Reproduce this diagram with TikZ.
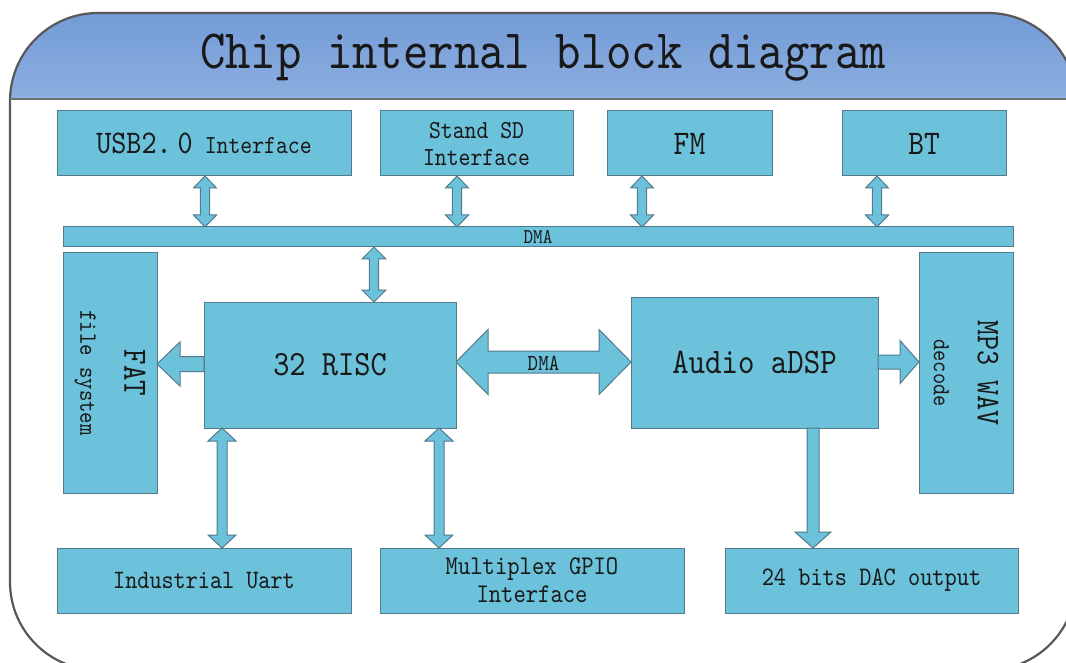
\documentclass[tikz,border=0pt]{standalone}
\usepackage{fontspec}
\newfontfamily\mono[FakeStretch=0.87]{lmmono10-regular.otf}
\usetikzlibrary{calc}
\definecolor{boxfill}{RGB}{107,194,218}
\definecolor{boxline}{RGB}{82,122,140}
\definecolor{hdtop}{RGB}{110,152,213}
\definecolor{hdbot}{RGB}{141,175,224}
\definecolor{frameline}{RGB}{88,88,88}
\definecolor{txt}{RGB}{25,25,25}
\tikzset{
  blk/.style={draw=boxline, fill=boxfill, line width=1pt, inner sep=0pt, outer sep=0pt,
    align=center, font=\mono, text=txt},
  arrowshape/.style={draw=boxline, fill=boxfill, line width=1pt, line join=miter},
}
% vertical double arrow: #1 upper anchor, #2 lower anchor, #3 x, #4 half shaft, #5 half head, #6 head length
\newcommand\VDA[6]{\draw[arrowshape] let \p1=(#1), \p2=(#2), \p3=(#3,0) in
  (\x3,\y1) -- (\x3+#5pt,\y1-#6pt) -- (\x3+#4pt,\y1-#6pt) -- (\x3+#4pt,\y2+#6pt) -- (\x3+#5pt,\y2+#6pt)
  -- (\x3,\y2) -- (\x3-#5pt,\y2+#6pt) -- (\x3-#4pt,\y2+#6pt) -- (\x3-#4pt,\y1-#6pt) -- (\x3-#5pt,\y1-#6pt) -- cycle;}
% vertical single arrow pointing down
\newcommand\VDown[6]{\draw[arrowshape] let \p1=(#1), \p2=(#2), \p3=(#3,0) in
  (\x3-#4pt,\y1) -- (\x3+#4pt,\y1) -- (\x3+#4pt,\y2+#6pt) -- (\x3+#5pt,\y2+#6pt) -- (\x3,\y2)
  -- (\x3-#5pt,\y2+#6pt) -- (\x3-#4pt,\y2+#6pt) -- cycle;}
% horizontal double arrow: #1 left anchor, #2 right anchor, #3 y
\newcommand\HDA[6]{\draw[arrowshape] let \p1=(#1), \p2=(#2), \p3=(0,#3) in
  (\x1,\y3) -- (\x1+#6pt,\y3+#5pt) -- (\x1+#6pt,\y3+#4pt) -- (\x2-#6pt,\y3+#4pt) -- (\x2-#6pt,\y3+#5pt)
  -- (\x2,\y3) -- (\x2-#6pt,\y3-#5pt) -- (\x2-#6pt,\y3-#4pt) -- (\x1+#6pt,\y3-#4pt) -- (\x1+#6pt,\y3-#5pt) -- cycle;}
% single arrow pointing right: #1 tail anchor, #2 tip anchor
\newcommand\HRight[6]{\draw[arrowshape] let \p1=(#1), \p2=(#2), \p3=(0,#3) in
  (\x1,\y3+#4pt) -- (\x2-#6pt,\y3+#4pt) -- (\x2-#6pt,\y3+#5pt) -- (\x2,\y3)
  -- (\x2-#6pt,\y3-#5pt) -- (\x2-#6pt,\y3-#4pt) -- (\x1,\y3-#4pt) -- cycle;}
% single arrow pointing left: #1 tail anchor, #2 tip anchor
\newcommand\HLeft[6]{\draw[arrowshape] let \p1=(#1), \p2=(#2), \p3=(0,#3) in
  (\x1,\y3+#4pt) -- (\x2+#6pt,\y3+#4pt) -- (\x2+#6pt,\y3+#5pt) -- (\x2,\y3)
  -- (\x2+#6pt,\y3-#5pt) -- (\x2+#6pt,\y3-#4pt) -- (\x1,\y3-#4pt) -- cycle;}
\begin{document}
\begin{tikzpicture}[x=1pt,y=-1pt]
\useasboundingbox (0,0) rectangle (1066,663);
\fill[white] (0,0) rectangle (1066,663);
% frame and header
\begin{scope}
  \clip[rounded corners=88pt] (10,13) rectangle (1076,670);
  \fill[top color=hdtop, bottom color=hdbot] (0,0) rectangle (1080,99);
\end{scope}
\draw[frameline, line width=2.2pt, rounded corners=88pt] (10,13) rectangle (1076,670);
\draw[frameline!85, line width=2pt] (10,99) -- (1076,99);
\node[font=\mono\fontsize{55.6}{56}\selectfont, text=txt] (title) at (543,58) {Chip internal block diagram};

% top row
\node[blk, anchor=north west, minimum width=294pt, minimum height=65pt] (usb) at (57,111)
  {{\fontsize{33}{30}\selectfont USB2.\hspace{6pt}0}\hspace{12pt}{\fontsize{26}{24}\selectfont Interface}};
\node[blk, anchor=north west, minimum width=193pt, minimum height=65pt, font=\mono\fontsize{26}{27}\selectfont] (sd) at (380,111)
  {Stand SD\\Interface};
\node[blk, anchor=north west, minimum width=165pt, minimum height=65pt, font=\mono\fontsize{34.5}{34}\selectfont] (fm) at (607,111) {FM};
\node[blk, anchor=north west, minimum width=164pt, minimum height=65pt, font=\mono\fontsize{34.5}{34}\selectfont] (bt) at (842,111) {BT};

% DMA bar
\node[blk, anchor=north west, minimum width=950pt, minimum height=20pt, font=\mono\fontsize{21}{20}\selectfont] (dma) at (63,227) {DMA};

% middle row
\node[blk, rotate=-90, minimum width=240pt, minimum height=94pt, font=\mono\fontsize{25}{44}\selectfont] (fat) at (110,373)
  {{\fontsize{34}{44}\selectfont FAT}\\file system};
\node[blk, anchor=north west, minimum width=252pt, minimum height=126pt, font=\mono\fontsize{35.5}{35}\selectfont] (risc) at (204,302) {32 RISC};
\node[blk, anchor=north west, minimum width=247pt, minimum height=131pt, font=\mono\fontsize{36}{36}\selectfont] (adsp) at (631,297) {Audio aDSP};
\node[blk, rotate=-90, minimum width=240pt, minimum height=94pt, font=\mono\fontsize{24.5}{44}\selectfont] (mp3) at (966,373)
  {{\fontsize{33}{44}\selectfont MP3 WAV}\\decode};

% bottom row
\node[blk, anchor=north west, minimum width=294pt, minimum height=65pt, font=\mono\fontsize{26.5}{28}\selectfont] (uart) at (57,548) {Industrial Uart};
\node[blk, anchor=north west, minimum width=304pt, minimum height=65pt, font=\mono\fontsize{27}{28}\selectfont] (gpio) at (380,548) {Multiplex GPIO\\Interface};
\node[blk, anchor=north west, minimum width=293pt, minimum height=65pt, font=\mono\fontsize{26.7}{28}\selectfont] (dac) at (725,548) {24 bits DAC output};

% connectors
\VDA{usb.south}{dma.north}{205}{4.7}{11.5}{12}
\VDA{sd.south}{dma.north}{457}{4.7}{11.5}{12}
\VDA{fm.south}{dma.north}{642}{4.7}{11.5}{12}
\VDA{bt.south}{dma.north}{877}{4.7}{11.5}{12}
\VDA{dma.south}{risc.north}{374}{4.7}{12}{12}
\VDA{risc.south}{uart.north}{222}{5}{14}{13}
\VDA{risc.south}{gpio.north}{439}{5}{14}{13}
\HLeft{risc.west}{fat.north}{364}{7.5}{22}{23}
\HDA{risc.east}{adsp.west}{362}{11}{32.5}{32}
\node[font=\mono\fontsize{23}{22}\selectfont, text=txt] (dmalbl) at ($(risc.east)!0.5!(adsp.west)$) {DMA};
\HRight{adsp.east}{mp3.south}{362}{7}{21.5}{19}
\VDown{adsp.south}{dac.north}{813}{6}{18}{16}
\end{tikzpicture}
\end{document}
